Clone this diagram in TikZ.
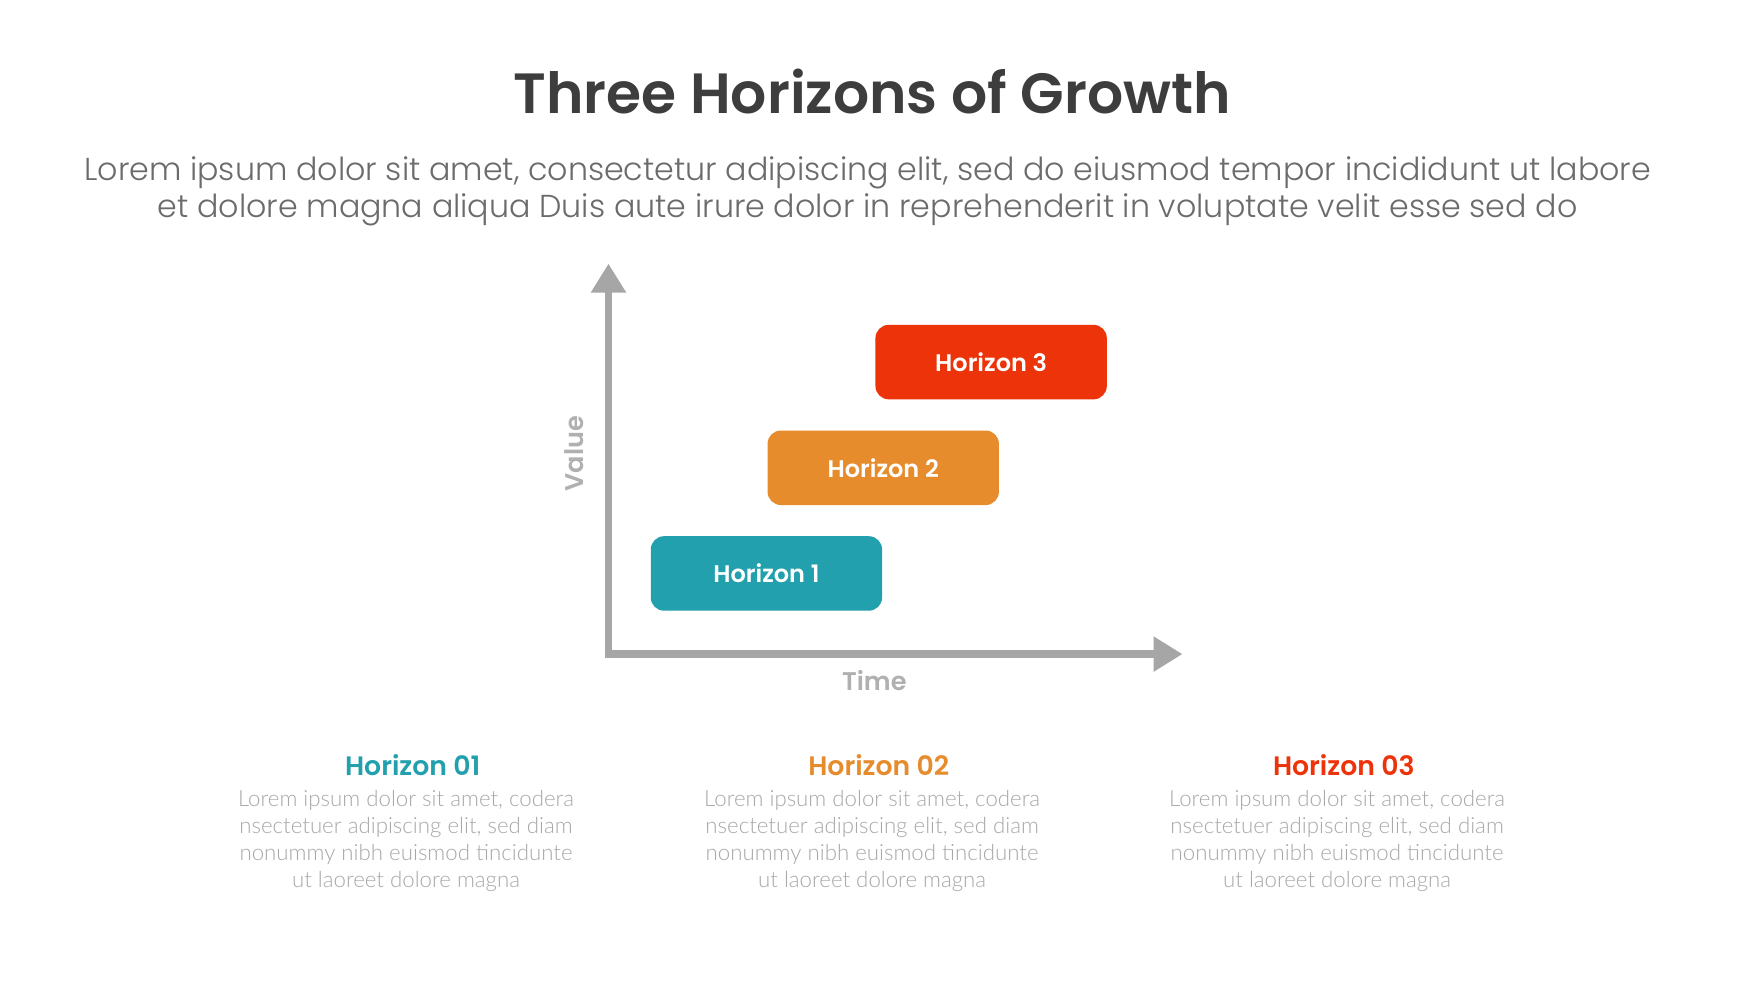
\documentclass[tikz,border=0pt]{standalone}
\usepackage{fontspec}
\setmainfont{Poppins}
\newfontfamily\popsb{Poppins SemiBold}
\newfontfamily\poplt{Poppins Light}
\newfontfamily\latolt{Lato Light}
\usetikzlibrary{arrows.meta}
\definecolor{teal1}{HTML}{23A0AD}
\definecolor{orange1}{HTML}{E68C2C}
\definecolor{red1}{HTML}{EC330A}
\definecolor{titlegray}{HTML}{3D3D3D}
\definecolor{subgray}{HTML}{6B6B6B}
\definecolor{axisgray}{HTML}{A6A6A6}
\definecolor{labgray}{HTML}{B0B0B0}
\definecolor{bodygray}{HTML}{A8A8A8}
\begin{document}
\begin{tikzpicture}[x=1pt,y=-1pt,
  hbox/.style={rounded corners=12pt, minimum width=208pt, minimum height=67pt, inner sep=0pt, text=white, font=\popsb\fontsize{21.6}{25}\selectfont},
  axis/.style={draw=axisgray, line width=7pt, -{Triangle[length=26pt,width=30pt]}},
  axlab/.style={text=labgray, font=\popsb\fontsize{23}{27}\selectfont, inner sep=0pt},
  head/.style={font=\popsb\fontsize{24}{28}\selectfont, inner sep=0pt},
  body/.style={text=bodygray, font=\latolt\fontsize{20}{24}\selectfont, align=center, inner sep=0pt}]
\useasboundingbox[fill=white] (0,0) rectangle (1566,881);
\node[text=titlegray, font=\popsb\fontsize{51}{57}\selectfont, inner sep=0pt] (title) at (784,82) {Three Horizons of Growth};
\node[text=subgray, font=\poplt\fontsize{28.5}{34}\selectfont, align=center, inner sep=0pt] (sub) at (780,172) {Lorem ipsum dolor sit amet, consectetur adipiscing elit, sed do eiusmod tempor incididunt ut labore\\et dolore magna aliqua Duis aute irure dolor in reprehenderit in voluptate velit esse sed do};
\coordinate (origin) at (547,588);
\coordinate (ytip) at (547,237);
\coordinate (xtip) at (1063,588);
\draw[axis] (origin) ++(0,3.5) -- (ytip);
\draw[axis] (origin) ++(-3.5,0) -- (xtip);
\node[axlab, rotate=90] (value) at (516,408) {Value};
\node[axlab] (time) at (786,612) {Time};
\node[hbox, fill=teal1] (h1) at (689,515.5) {Horizon 1};
\node[hbox, fill=orange1] (h2) at (794,420.5) {Horizon 2};
\node[hbox, fill=red1] (h3) at (891,325.5) {Horizon 3};
\node[head, text=teal1] (t1) at (371,688) {Horizon 01};
\node[head, text=orange1] (t2) at (790,688) {Horizon 02};
\node[head, text=red1] (t3) at (1208,688) {Horizon 03};
\node[body] (b1) at (365,756) {Lorem ipsum dolor sit amet, codera\\nsectetuer adipiscing elit, sed diam\\nonummy nibh euismod tincidunte\\ut laoreet dolore magna};
\node[body] (b2) at (784,756) {Lorem ipsum dolor sit amet, codera\\nsectetuer adipiscing elit, sed diam\\nonummy nibh euismod tincidunte\\ut laoreet dolore magna};
\node[body] (b3) at (1202,756) {Lorem ipsum dolor sit amet, codera\\nsectetuer adipiscing elit, sed diam\\nonummy nibh euismod tincidunte\\ut laoreet dolore magna};
\end{tikzpicture}
\end{document}
